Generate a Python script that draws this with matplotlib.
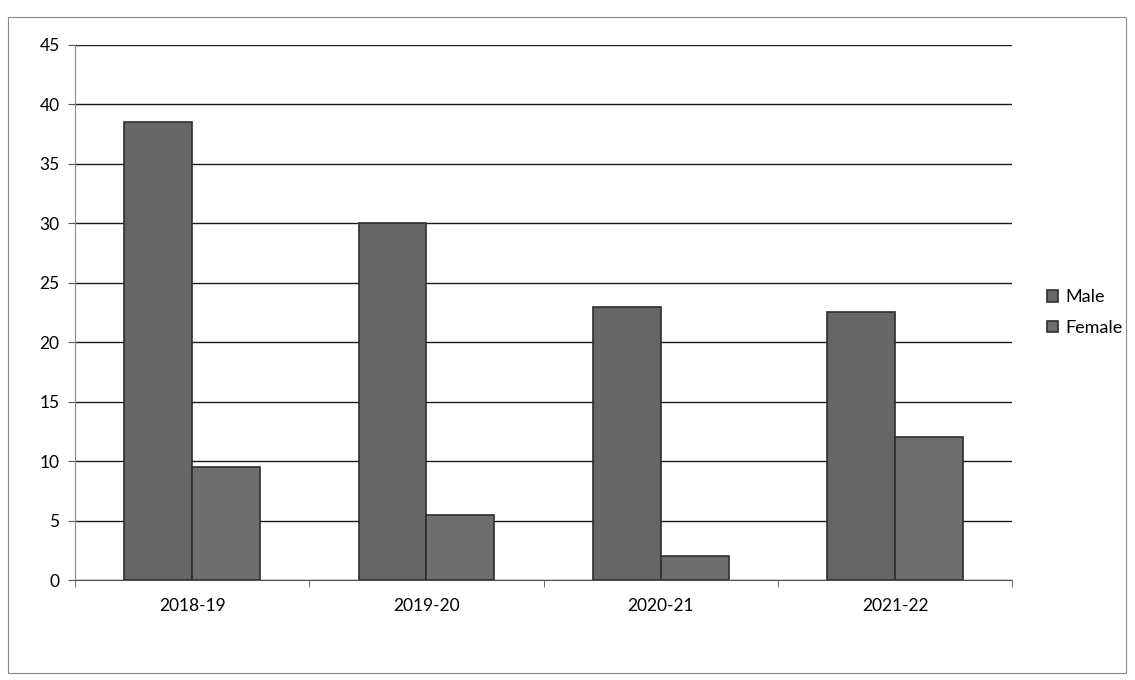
import matplotlib.pyplot as plt
import numpy as np
from matplotlib.patches import Rectangle

plt.rcParams['font.family'] = ['Lato', 'DejaVu Sans']

years = ['2018-19', '2019-20', '2020-21', '2021-22']
male = [38.5, 30, 23, 22.5]
female = [9.5, 5.5, 2, 12]
y_ticks = [0, 5, 10, 15, 20, 25, 30, 35, 40, 45]

fig = plt.figure(figsize=(11.35, 6.8), dpi=100)
fig.patch.set_facecolor('white')
ax = fig.add_axes([0.066, 0.147, 0.826, 0.787])

# chart area border
fig.patches.append(Rectangle((0.007, 0.01), 0.985, 0.965, transform=fig.transFigure,
                             fill=False, edgecolor='#8a8a8a', linewidth=0.8))

x = np.arange(len(years))
w = 0.29
ax.bar(x - w / 2, male, width=w, color='#666666', edgecolor='#2e2e2e',
       linewidth=1.2, label='Male', zorder=3)
ax.bar(x + w / 2, female, width=w, color='#6e6e6e', edgecolor='#2e2e2e',
       linewidth=1.2, label='Female', zorder=3)

ax.set_xlim(-0.5, len(years) - 0.5)
ax.set_ylim(0, 45)
ax.set_yticks(y_ticks)
ax.yaxis.grid(True, color='#1a1a1a', linewidth=1.0, zorder=0)
ax.set_axisbelow(True)

ax.set_xticks(x)
ax.set_xticklabels(years, fontsize=12.5)
ax.set_xticks(np.arange(len(years) + 1) - 0.5, minor=True)
ax.tick_params(axis='x', which='major', length=0, pad=13)
ax.tick_params(axis='x', which='minor', length=5, color='#555555')
ax.tick_params(axis='y', labelsize=12.5, length=5, color='#555555', pad=6)

for side in ['top', 'right']:
    ax.spines[side].set_visible(False)
ax.spines['left'].set_color('#8a8a8a')
ax.spines['bottom'].set_color('#555555')

ax.legend(loc='center left', bbox_to_anchor=(1.02, 0.5), frameon=False,
          fontsize=13, handlelength=0.6, handleheight=0.6, handletextpad=0.4,
          labelspacing=0.8)

fig.savefig('out.png', dpi=100)
